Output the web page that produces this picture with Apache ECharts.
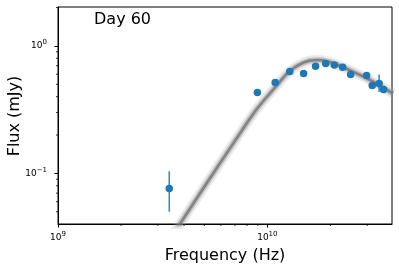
<!DOCTYPE html>
<html><head><meta charset="utf-8">
<script src="https://cdn.jsdelivr.net/npm/echarts@6/dist/echarts.min.js"></script>
<style>html,body{margin:0;padding:0;background:#fff}#c{width:399px;height:271px}</style>
</head><body><div id="c"></div>
<script>
// Observed data (frequency Hz, flux mJy)
const freqs  = [3.4e9, 8.96e9, 1.09e10, 1.28e10, 1.49e10, 1.70e10, 1.90e10, 2.09e10, 2.29e10, 2.50e10, 2.98e10, 3.17e10, 3.42e10, 3.59e10];
const fluxes = [0.0763, 0.432, 0.517, 0.63, 0.608, 0.693, 0.728, 0.71, 0.681, 0.597, 0.586, 0.49, 0.508, 0.456];
const errLow  = [0.050, null, null, null, null, null, null, null, null, null, null, null, 0.436, null];
const errHigh = [0.104, null, null, null, null, null, null, null, null, null, null, null, 0.597, null];
// Model curve
const modelFreq = [3.55e9, 5.01e9, 7.08e9, 8.91e9, 1.122e10, 1.259e10, 1.413e10, 1.585e10, 1.778e10, 1.995e10, 2.239e10, 2.512e10, 3.162e10, 3.981e10];
const modelFlux = [0.0333, 0.0789, 0.185, 0.32, 0.50, 0.62, 0.71, 0.765, 0.775, 0.745, 0.695, 0.638, 0.53, 0.423];
// Axes
const xRange = [1e9, 3.94e10];
const yRange = [0.0401, 2.02];
const xMajor = [1e9, 1e10];
const yMajor = [0.1, 1];
const xMinor = [2e9,3e9,4e9,5e9,6e9,7e9,8e9,9e9,2e10,3e10];
const yMinor = [0.05,0.06,0.07,0.08,0.09,0.2,0.3,0.4,0.5,0.6,0.7,0.8,0.9,2];
const title = 'Day 60';
const xName = 'Frequency (Hz)';
const yName = 'Flux (mJy)';

function pow10Label(v){
  const e = Math.round(Math.log10(v));
  if (Math.abs(Math.log10(v) - e) > 1e-6) return '';
  return '{b|10}{s|' + (e < 0 ? '\u2212' + (-e) : e) + '}';
}
const FONT = 'DejaVu Sans';
const blue = '#1f77b4';
const rich = {b:{fontFamily:FONT, fontSize:9, color:'#000'}, s:{fontFamily:FONT, fontSize:7, color:'#000', padding:[0,0,7,0]}};
const chart = echarts.init(document.getElementById('c'), null, {renderer:'canvas'});

const errData = freqs.map((f,i)=>[f, errLow[i], errHigh[i]]).filter(d=>d[1]!=null);
const modelData = modelFreq.map((f,i)=>[f, modelFlux[i]]);

chart.setOption({
  animation:false,
  backgroundColor:'#fff',
  title:{text:title, left:94, top:12, padding:0, textStyle:{fontFamily:FONT, fontSize:16, fontWeight:'normal', color:'#000'}},
  graphic:[{type:'text', x:15, y:116, rotation:Math.PI/2, silent:true,
    style:{text:yName, fontFamily:FONT, fontSize:16, fill:'#000', align:'center', verticalAlign:'middle'}}],
  grid:{left:58, right:7, top:7, bottom:47, show:true, borderColor:'#000', borderWidth:1, backgroundColor:'transparent', containLabel:false, outerBoundsMode:'none'},
  xAxis:{type:'log', logBase:10, min:xRange[0], max:xRange[1],
    name:xName, nameLocation:'middle', nameGap:22, nameTextStyle:{fontFamily:FONT, fontSize:16, color:'#000'},
    axisLine:{show:true, onZero:false, lineStyle:{color:'#000', width:1}},
    axisTick:{show:true, length:3.5, inside:false, lineStyle:{color:'#000'}, customValues:xMajor},
    axisLabel:{fontFamily:FONT, fontSize:9, color:'#000', margin:7, customValues:xMajor, formatter:pow10Label, rich:rich},
    splitLine:{show:false}, minorTick:{show:false}},
  yAxis:{type:'log', logBase:10, min:yRange[0], max:yRange[1],
    axisLine:{show:true, onZero:false, lineStyle:{color:'#000', width:1}},
    axisTick:{show:true, length:3.5, inside:false, lineStyle:{color:'#000'}, customValues:yMajor},
    axisLabel:{fontFamily:FONT, fontSize:9, color:'#000', margin:11, customValues:yMajor, formatter:pow10Label, rich:rich},
    splitLine:{show:false}, minorTick:{show:false}},
  series:[
    {type:'line', data:modelData, smooth:0.35, symbol:'none', clip:true, lineStyle:{color:'rgba(170,170,170,0.25)', width:10}, z:1},
    {type:'line', data:modelData, smooth:0.35, symbol:'none', clip:true, lineStyle:{color:'rgba(140,140,140,0.45)', width:5.5}, z:2},
    {type:'line', data:modelData, smooth:0.35, symbol:'none', clip:true, lineStyle:{color:'rgba(105,105,105,0.7)', width:2.5}, z:3},
    {type:'custom', data:errData, clip:false, z:5, renderItem:function(params, api){
      const p1 = api.coord([api.value(0), api.value(1)]);
      const p2 = api.coord([api.value(0), api.value(2)]);
      return {type:'line', shape:{x1:p1[0], y1:p1[1], x2:p2[0], y2:p2[1]}, style:{stroke:'rgba(31,119,180,0.85)', lineWidth:1.6}};
    }},
    {type:'scatter', data:freqs.map((f,i)=>[f, fluxes[i]]), symbol:'circle', symbolSize:7.5, itemStyle:{color:blue, opacity:1}, z:6},
    {type:'custom', data:xMinor.map(v=>[v,1]), clip:false, z:7, silent:true, renderItem:function(params, api){
      const p = api.coord([api.value(0), 1]);
      const yb = params.coordSys.y + params.coordSys.height;
      return {type:'line', shape:{x1:p[0], y1:yb, x2:p[0], y2:yb+2}, style:{stroke:'#000', lineWidth:0.8}};
    }},
    {type:'custom', data:yMinor.map(v=>[2e9,v]), clip:false, z:7, silent:true, renderItem:function(params, api){
      const p = api.coord([2e9, api.value(1)]);
      const xl = params.coordSys.x;
      return {type:'line', shape:{x1:xl, y1:p[1], x2:xl-2, y2:p[1]}, style:{stroke:'#000', lineWidth:0.8}};
    }}
  ]
});
</script></body></html>
